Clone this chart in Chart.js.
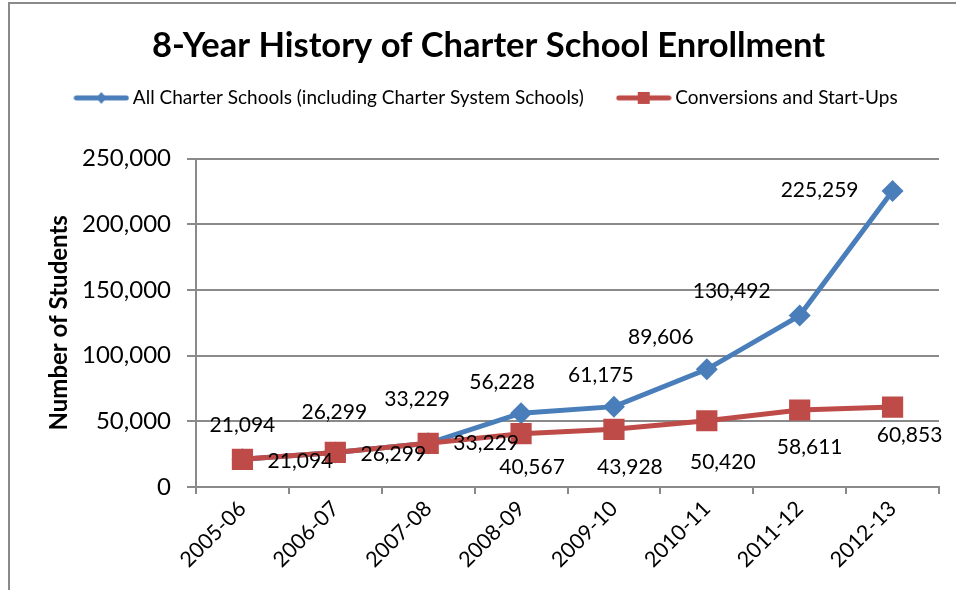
<!DOCTYPE html>
<html>
<head>
<meta charset="utf-8">
<script src="https://cdn.jsdelivr.net/npm/chart.js@4"></script>
<style>
  body { margin: 0; background: #fff; }
  #wrap { position: relative; width: 956px; height: 590px; }
  #frame { position: absolute; left: 8px; top: 2px; right: -2px; bottom: -2px; border-left: 2px solid #8a8a8a; border-top: 2px solid #8a8a8a; pointer-events: none; }
</style>
</head>
<body>
<div id="wrap">
  <canvas id="enrollChart" width="956" height="590"></canvas>
  <div id="frame"></div>
</div>
<script>
// school years on the x axis
var years = ["2005-06", "2006-07", "2007-08", "2008-09", "2009-10", "2010-11", "2011-12", "2012-13"];

// enrollment numbers
var allCharter = [21094, 26299, 33229, 56228, 61175, 89606, 130492, 225259];
var conversions = [21094, 26299, 33229, 40567, 43928, 50420, 58611, 60853];

// y axis ticks
var yTicks = [0, 50000, 100000, 150000, 200000, 250000];

var blue = '#4A7EBB';
var red = '#BE4B48';
var fontName = 'Lato, "Open Sans", sans-serif';

// where each value label sits relative to its point (pixels)
var blueLabelOffsets = [[0, -34], [-1, -40], [-11, -44], [-19, -31], [-13, -31], [-46, -32], [-68, -24], [-73, -1]];
var redLabelOffsets = [[58, 2], [58, 2], [58, 0], [11, 34], [16, 38], [16, 41], [10, 37], [17, 28]];

// little line + marker pictures for the legend
function legendIcon(color, shape) {
    var c = document.createElement('canvas');
    c.width = 56;
    c.height = 16;
    var g = c.getContext('2d');
    g.strokeStyle = color;
    g.lineWidth = 5;
    g.lineCap = 'round';
    g.beginPath();
    g.moveTo(3, 8);
    g.lineTo(53, 8);
    g.stroke();
    g.fillStyle = color;
    if (shape === 'diamond') {
        g.beginPath();
        g.moveTo(28, 2);
        g.lineTo(33, 8);
        g.lineTo(28, 14);
        g.lineTo(23, 8);
        g.closePath();
        g.fill();
    } else {
        g.fillRect(22, 2, 12, 12);
    }
    return c;
}

var valueLabels = {
    id: 'valueLabels',
    afterDatasetsDraw: function(chart) {
        var ctx = chart.ctx;
        ctx.save();
        ctx.font = '21px ' + fontName;
        ctx.fillStyle = '#000';
        ctx.textAlign = 'center';
        ctx.textBaseline = 'middle';
        chart.data.datasets.forEach(function(ds, i) {
            var meta = chart.getDatasetMeta(i);
            var offs = i === 0 ? blueLabelOffsets : redLabelOffsets;
            meta.data.forEach(function(pt, j) {
                var txt = ds.data[j].toLocaleString('en-US');
                ctx.fillText(txt, pt.x + offs[j][0], pt.y + offs[j][1]);
            });
        });
        ctx.restore();
    }
};

var ctx = document.getElementById('enrollChart').getContext('2d');
var chart = new Chart(ctx, {
    type: 'line',
    data: {
        labels: years,
        datasets: [{
            label: 'All Charter Schools (including Charter System Schools)',
            data: allCharter,
            borderColor: blue,
            backgroundColor: blue,
            borderWidth: 5,
            pointStyle: 'rectRot',
            pointRadius: 11,
            pointBorderWidth: 0,
            tension: 0,
            order: 1
        }, {
            label: 'Conversions and Start-Ups',
            data: conversions,
            borderColor: red,
            backgroundColor: red,
            borderWidth: 5,
            pointStyle: 'rect',
            pointRadius: 15,
            pointBorderWidth: 0,
            tension: 0,
            order: 0
        }]
    },
    options: {
        responsive: false,
        animation: false,
        layout: {
            padding: { left: 38, right: 17, top: 0, bottom: 0 }
        },
        plugins: {
            title: {
                display: true,
                text: '8-Year History of Charter School Enrollment',
                color: '#000',
                font: { family: fontName, size: 34.5, weight: 'bold' },
                padding: { top: 25, bottom: -16 }
            },
            // empty spacer between legend and plot
            subtitle: {
                display: true,
                text: '',
                weight: 500,
                font: { size: 1 },
                padding: { top: 0, bottom: 40 }
            },
            legend: {
                labels: {
                    color: '#000',
                    font: { family: fontName, size: 19 },
                    usePointStyle: true,
                    pointStyleWidth: 44,
                    boxHeight: 16,
                    padding: 38,
                    generateLabels: function(chart) {
                        return chart.data.datasets.map(function(ds, i) {
                            return {
                                text: ds.label,
                                datasetIndex: i,
                                fontColor: '#000',
                                pointStyle: legendIcon(ds.borderColor, i === 0 ? 'diamond' : 'square'),
                                lineWidth: 0,
                                strokeStyle: 'transparent',
                                fillStyle: 'transparent'
                            };
                        });
                    }
                }
            },
            tooltip: { enabled: false }
        },
        scales: {
            x: {
                offset: true,
                grid: {
                    offset: true,
                    drawOnChartArea: false,
                    drawTicks: true,
                    tickLength: 7,
                    color: '#8a8a8a',
                    lineWidth: 2
                },
                border: { color: '#8a8a8a', width: 2 },
                ticks: {
                    color: '#000',
                    font: { family: fontName, size: 21.5 },
                    minRotation: 45,
                    maxRotation: 45,
                    padding: 2
                },
                afterFit: function(scale) { scale.height = 103; }
            },
            y: {
                min: 0,
                max: 250000,
                afterBuildTicks: function(scale) {
                    scale.ticks = yTicks.map(function(v) { return { value: v }; });
                },
                grid: {
                    color: '#8a8a8a',
                    lineWidth: 2,
                    tickLength: 9
                },
                border: { color: '#8a8a8a', width: 2 },
                ticks: {
                    color: '#000',
                    font: { family: fontName, size: 24 },
                    padding: 16,
                    callback: function(v) { return v.toLocaleString('en-US'); }
                },
                title: {
                    display: true,
                    text: 'Number of Students',
                    color: '#000',
                    font: { family: fontName, size: 24, weight: 'bold' },
                    padding: { top: 7, bottom: 0 }
                },
                afterFit: function(scale) { scale.width = 158; }
            }
        }
    },
    plugins: [valueLabels]
});
</script>
</body>
</html>
